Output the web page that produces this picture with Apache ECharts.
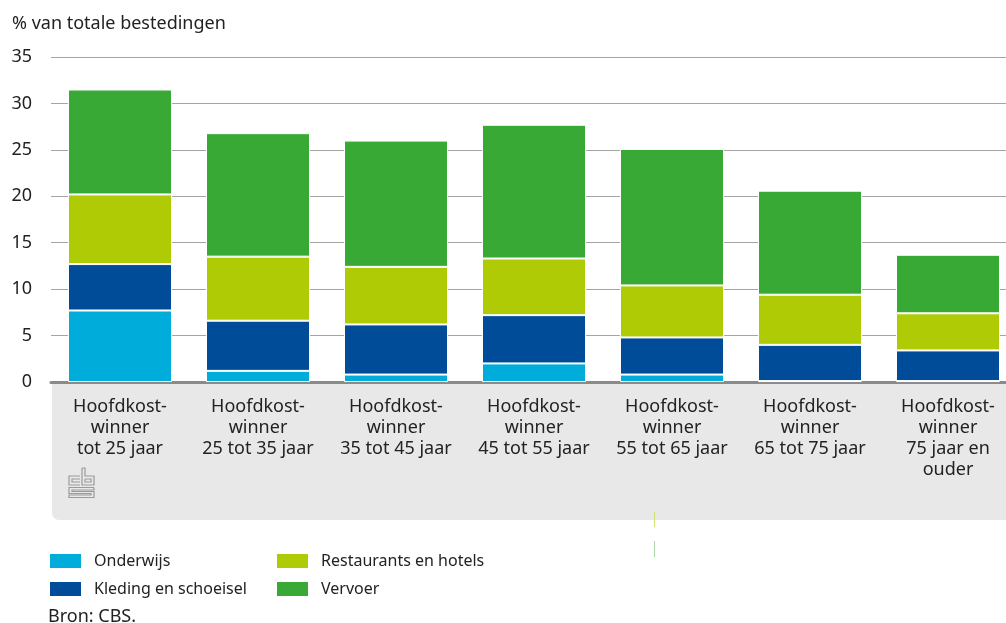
<!DOCTYPE html>
<html>
<head>
<meta charset="utf-8">
<script src="https://cdn.jsdelivr.net/npm/echarts@6/dist/echarts.min.js"></script>
<style>
  html, body { margin: 0; padding: 0; background: #fff; }
  #chart { width: 1006px; height: 623px; }
</style>
</head>
<body>
<div id="chart"></div>
<script>
// categorieen (x-as)
var categories = [
  'Hoofdkost-\nwinner\ntot 25 jaar',
  'Hoofdkost-\nwinner\n25 tot 35 jaar',
  'Hoofdkost-\nwinner\n35 tot 45 jaar',
  'Hoofdkost-\nwinner\n45 tot 55 jaar',
  'Hoofdkost-\nwinner\n55 tot 65 jaar',
  'Hoofdkost-\nwinner\n65 tot 75 jaar',
  'Hoofdkost-\nwinner\n75 jaar en\nouder'
];
// % van totale bestedingen, per post
var onderwijs   = [7.7, 1.2, 0.8, 2.0, 0.8, 0.1, 0.1];
var kleding     = [5.0, 5.4, 5.4, 5.2, 4.0, 3.9, 3.3];
var restaurants = [7.5, 6.9, 6.2, 6.1, 5.6, 5.4, 4.0];
var vervoer     = [11.3, 13.3, 13.6, 14.4, 14.7, 11.2, 6.3];
var yTicks = [0, 35, 5]; // min, max, interval

var fontFam = '"Noto Sans", "Open Sans", sans-serif';
var textCol = '#222';

var myChart = echarts.init(document.getElementById('chart'));

function barSerie(name, data, color) {
  return {
    name: name,
    type: 'bar',
    stack: 'totaal',
    barWidth: 104,
    data: data,
    itemStyle: { color: color, borderColor: '#fff', borderWidth: 1 },
    emphasis: { disabled: true }
  };
}

function legendBlok(names, left) {
  return {
    data: names,
    orient: 'vertical',
    left: left,
    top: 552,
    padding: 0,
    icon: 'rect',
    itemWidth: 33,
    itemHeight: 16,
    itemGap: 10,
    selectedMode: false,
    textStyle: { fontFamily: fontFam, fontSize: 16, color: textCol, padding: [0, 0, 0, 7] }
  };
}

// cbs logo, ruwe benadering met lijntjes
var lx = 69, ly = 468;
function pl(points) {
  return {
    type: 'polyline',
    shape: { points: points.map(function (p) { return [lx + p[0], ly + p[1]]; }) },
    style: { stroke: '#9a9a9a', lineWidth: 1.2, fill: null },
    silent: true
  };
}
var logo = [
  // c
  pl([[11, 8], [0, 8], [0, 17], [11, 17]]),
  pl([[11, 11], [3, 11], [3, 14], [11, 14]]),
  // b
  pl([[13, 0], [13, 17], [25, 17], [25, 8], [16, 8], [16, 0], [13, 0]]),
  pl([[16, 11], [22, 11], [22, 14], [16, 14], [16, 11]]),
  // s
  pl([[25, 19.5], [0, 19.5], [0, 25.5], [22, 25.5], [22, 27], [0, 27], [0, 29.5], [25, 29.5], [25, 23.5], [3, 23.5], [3, 22], [25, 22], [25, 19.5]])
];

var option = {
  animation: false,
  title: {
    text: '% van totale bestedingen',
    left: 12,
    top: 15,
    padding: 0,
    textStyle: { fontFamily: fontFam, fontSize: 18, fontWeight: 'normal', color: textCol }
  },
  legend: [
    legendBlok(['Onderwijs', 'Kleding en schoeisel'], 48),
    legendBlok(['Restaurants en hotels', 'Vervoer'], 275)
  ],
  grid: { left: 51, right: -11, top: 57, bottom: 241, outerBoundsMode: 'none', containLabel: false },
  xAxis: {
    type: 'category',
    data: categories,
    axisLine: { show: true, lineStyle: { color: '#8a8a8a', width: 3 } },
    axisTick: { show: false },
    axisLabel: {
      margin: 14,
      fontFamily: fontFam,
      fontSize: 18,
      lineHeight: 21,
      color: textCol,
      interval: 0,
      align: 'center'
    }
  },
  yAxis: {
    type: 'value',
    min: yTicks[0],
    max: yTicks[1],
    interval: yTicks[2],
    axisLine: { show: false },
    axisTick: { show: false },
    axisLabel: { margin: 19, fontFamily: fontFam, fontSize: 18, color: textCol },
    splitLine: { lineStyle: { color: '#a5a5a5', width: 1.2 } }
  },
  graphic: [
    {
      type: 'rect',
      z: -10,
      silent: true,
      shape: { x: 52, y: 384, width: 970, height: 136, r: [0, 0, 0, 7] },
      style: { fill: '#e8e8e8' }
    },
    { type: 'group', z: -5, children: logo },
    {
      type: 'line', silent: true,
      shape: { x1: 654.5, y1: 512, x2: 654.5, y2: 527 },
      style: { stroke: '#cfe27a', lineWidth: 1 }
    },
    {
      type: 'line', silent: true,
      shape: { x1: 654.5, y1: 541, x2: 654.5, y2: 557 },
      style: { stroke: '#a9d9a9', lineWidth: 1 }
    },
    {
      type: 'text',
      left: 48,
      top: 608,
      silent: true,
      style: { text: 'Bron: CBS.', fontFamily: fontFam, fontSize: 18, fill: textCol }
    }
  ],
  series: [
    barSerie('Onderwijs', onderwijs, '#00acd9'),
    barSerie('Kleding en schoeisel', kleding, '#004c99'),
    barSerie('Restaurants en hotels', restaurants, '#afcb05'),
    barSerie('Vervoer', vervoer, '#38a935')
  ]
};

if (option && typeof option === "object") {
  myChart.setOption(option, true);
}
</script>
</body>
</html>
